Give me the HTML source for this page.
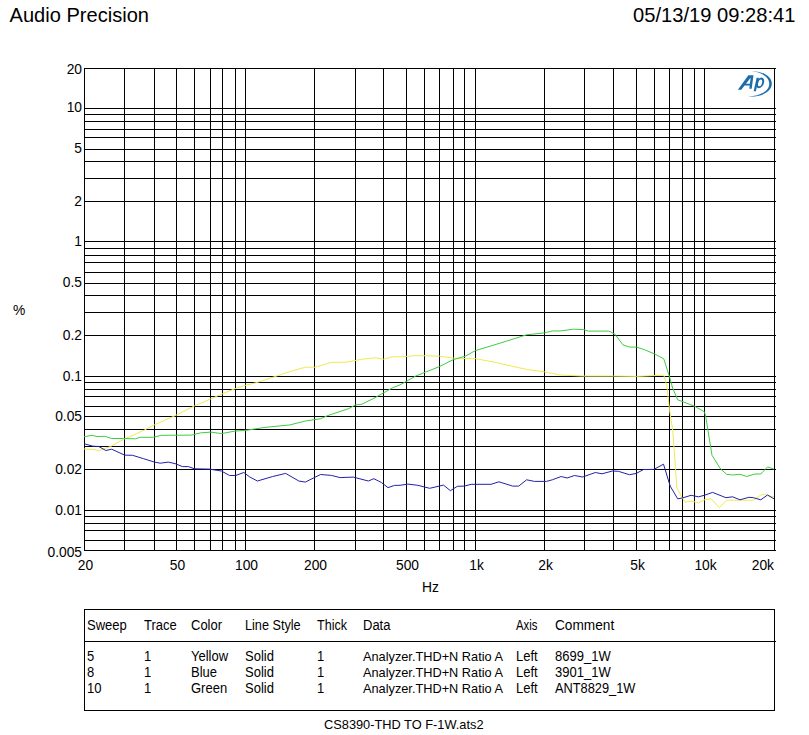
<!DOCTYPE html><html><head><meta charset="utf-8"><style>html,body{margin:0;padding:0;background:#fff;width:809px;height:735px;overflow:hidden}svg{display:block}text{font-family:"Liberation Sans",sans-serif;fill:#000}</style></head><body>
<svg width="809" height="735" viewBox="0 0 809 735">
<rect width="809" height="735" fill="#fff"/>
<path d="M84.5 68V551M124.5 68V551M154.5 68V551M176.5 68V551M194.5 68V551M210.5 68V551M222.5 68V551M235.5 68V551M245.5 68V551M314.5 68V551M355.5 68V551M383.5 68V551M406.5 68V551M424.5 68V551M439.5 68V551M453.5 68V551M464.5 68V551M475.5 68V551M544.5 68V551M584.5 68V551M613.5 68V551M636.5 68V551M654.5 68V551M669.5 68V551M682.5 68V551M694.5 68V551M704.5 68V551M774.5 68V551M84 68.5H776M84 108.5H776M84 114.5H776M84 121.5H776M84 129.5H776M84 137.5H776M84 149.5H776M84 161.5H776M84 178.5H776M84 201.5H776M84 241.5H776M84 248.5H776M84 255.5H776M84 262.5H776M84 272.5H776M84 283.5H776M84 295.5H776M84 312.5H776M84 335.5H776M84 376.5H776M84 382.5H776M84 389.5H776M84 396.5H776M84 406.5H776M84 416.5H776M84 429.5H776M84 446.5H776M84 469.5H776M84 510.5H776M84 516.5H776M84 523.5H776M84 530.5H776M84 540.5H776M84 550.5H776" stroke="#000" stroke-width="1" fill="none" shape-rendering="crispEdges"/>
<polyline points="84.0,449.0 93.9,449.5 98.8,450.9 103.8,448.7 110.7,446.5 123.6,439.3 136.4,433.8 146.3,429.1 155.2,424.5 160.0,422.4 175.0,415.7 194.4,405.9 204.9,401.4 216.9,396.2 234.9,388.7 243.8,385.7 257.4,382.4 274.8,376.6 290.1,371.6 305.3,367.2 315.1,367.2 331.4,362.4 346.7,362.2 361.9,359.2 375.0,357.8 383.7,359.2 392.4,356.8 400.0,356.8 415.8,355.6 439.6,356.2 453.4,358.0 465.3,358.6 475.2,358.6 493.0,361.9 510.8,365.9 526.6,369.4 544.4,371.8 560.0,375.0 583.7,376.1 613.4,376.1 636.4,376.4 663.8,375.2 666.8,385.3 669.5,409.6 672.8,430.8 676.9,488.0 682.4,498.0 685.1,502.2 691.1,501.0 698.5,502.8 705.2,499.5 711.1,498.8 719.3,507.7 726.7,500.2 734.1,500.2 746.0,500.2 753.4,500.2 760.8,495.0 764.5,494.3 767.5,495.5 774.0,497.0" fill="none" stroke="#f0ea50" stroke-width="1" stroke-linejoin="round"/>
<polyline points="84.0,443.7 92.9,446.2 98.8,446.5 105.8,450.5 111.7,449.2 124.6,455.1 132.5,455.3 143.3,458.6 154.2,462.0 160.2,463.2 168.2,462.1 175.0,463.6 182.5,466.6 188.4,466.6 194.4,468.8 209.4,469.1 221.4,471.0 229.6,475.5 235.6,475.5 243.8,472.5 249.8,477.0 257.4,481.0 272.7,476.5 285.7,473.4 298.8,481.0 305.3,482.1 320.5,474.5 331.4,475.4 340.1,477.6 353.2,477.1 368.4,481.0 373.9,478.7 381.5,482.6 388.0,487.6 394.5,485.4 400.0,485.3 407.9,484.1 417.8,485.3 429.7,488.3 443.5,485.1 450.4,490.7 457.4,486.3 464.3,486.1 471.2,484.3 491.0,484.3 498.9,481.8 512.7,486.1 518.7,486.1 526.6,479.8 534.5,481.4 546.4,481.4 552.3,479.8 556.0,478.4 561.2,476.5 567.1,478.0 574.5,475.5 582.7,477.0 595.3,472.5 602.0,473.8 612.4,471.0 618.3,471.3 629.4,474.7 636.1,473.5 643.5,469.5 653.9,469.4 663.5,464.2 670.2,486.1 677.7,498.8 682.2,498.0 691.1,495.3 698.5,496.8 704.4,495.3 712.6,492.4 725.9,497.7 732.6,496.8 740.0,499.8 748.9,497.3 753.4,497.7 760.8,499.8 767.5,495.0 774.0,498.8" fill="none" stroke="#2222aa" stroke-width="1" stroke-linejoin="round"/>
<polyline points="84.0,436.8 91.9,435.3 96.9,436.5 104.8,436.3 111.7,438.5 123.6,438.5 135.4,438.8 140.4,437.3 153.2,437.3 161.2,435.3 191.4,435.1 200.4,432.9 210.9,432.1 221.4,433.6 234.9,431.1 246.8,430.2 264.0,427.5 290.1,424.9 305.3,421.0 320.5,418.8 327.1,415.8 348.8,408.6 355.4,404.9 361.9,404.2 375.0,397.7 392.4,387.9 400.0,384.9 415.8,376.0 439.6,366.5 453.4,359.6 465.3,356.2 475.2,350.7 493.0,345.3 510.8,339.8 526.6,334.8 544.4,332.9 552.3,330.9 560.0,331.0 573.3,329.2 583.7,329.6 588.2,331.1 608.9,331.1 614.9,334.1 623.0,344.9 629.7,347.1 636.4,347.1 644.5,349.7 654.9,354.1 663.8,358.9 669.8,377.8 672.7,388.2 677.7,399.8 694.8,406.3 704.6,412.0 706.2,419.4 712.0,455.3 720.7,469.1 726.7,474.3 732.6,475.0 740.0,474.3 746.7,476.5 754.9,474.0 760.8,474.0 767.5,466.9 774.0,469.1" fill="none" stroke="#40cc40" stroke-width="1" stroke-linejoin="round"/>
<text x="82" y="74" font-size="13.8" text-anchor="end">20</text>
<text x="82" y="112" font-size="13.8" text-anchor="end">10</text>
<text x="82" y="152.5" font-size="13.8" text-anchor="end">5</text>
<text x="82" y="206" font-size="13.8" text-anchor="end">2</text>
<text x="82" y="246" font-size="13.8" text-anchor="end">1</text>
<text x="82" y="287" font-size="13.8" text-anchor="end">0.5</text>
<text x="82" y="340" font-size="13.8" text-anchor="end">0.2</text>
<text x="82" y="381" font-size="13.8" text-anchor="end">0.1</text>
<text x="82" y="421" font-size="13.8" text-anchor="end">0.05</text>
<text x="82" y="474" font-size="13.8" text-anchor="end">0.02</text>
<text x="82" y="515" font-size="13.8" text-anchor="end">0.01</text>
<text x="82" y="557" font-size="13.8" text-anchor="end">0.005</text>
<text x="85.5" y="570" font-size="13.8" text-anchor="middle">20</text>
<text x="177.5" y="570" font-size="13.8" text-anchor="middle">50</text>
<text x="246.5" y="570" font-size="13.8" text-anchor="middle">100</text>
<text x="315.5" y="570" font-size="13.8" text-anchor="middle">200</text>
<text x="407.5" y="570" font-size="13.8" text-anchor="middle">500</text>
<text x="476.5" y="570" font-size="13.8" text-anchor="middle">1k</text>
<text x="545.5" y="570" font-size="13.8" text-anchor="middle">2k</text>
<text x="637.5" y="570" font-size="13.8" text-anchor="middle">5k</text>
<text x="705.5" y="570" font-size="13.8" text-anchor="middle">10k</text>
<text x="774" y="570" font-size="13.8" text-anchor="end">20k</text>
<text x="13" y="314.5" font-size="13.8">%</text>
<text x="422" y="591.5" font-size="13.8">Hz</text>
<text x="9.5" y="21.6" font-size="20.8" textLength="139.5" lengthAdjust="spacingAndGlyphs">Audio Precision</text>
<text x="633" y="21.6" font-size="20.8" textLength="162.5" lengthAdjust="spacingAndGlyphs">05/13/19 09:28:41</text>
<g transform="translate(734 68) scale(0.049444)" fill="#1b6eaa"><path fill-rule="evenodd" d="M78 438 L290 148 L394 148 L358 420 L310 420 L318 354 L214 354 L148 438 Z M336 196 L322 318 L242 318 Z"/><path d="M458 195 L503 195 L443 472 L397 472 Z"/><ellipse cx="0" cy="0" rx="58" ry="88" fill="none" stroke="#1b6eaa" stroke-width="40" transform="translate(528 302) skewX(-14)"/><path d="M360 66 C565 58 768 170 765 320 C761 482 560 592 290 580 C545 560 712 466 713 320 C714 186 560 84 360 66 Z"/></g>
<path d="M84.5 609.5H774.5V710.5H84.5ZM84 641.5H776" stroke="#000" stroke-width="1" fill="none" shape-rendering="crispEdges"/>
<text x="87" y="630" font-size="13.8" textLength="39.75" lengthAdjust="spacingAndGlyphs">Sweep</text>
<text x="144" y="630" font-size="13.8" textLength="32.75" lengthAdjust="spacingAndGlyphs">Trace</text>
<text x="191" y="630" font-size="13.8" textLength="31.08" lengthAdjust="spacingAndGlyphs">Color</text>
<text x="245" y="630" font-size="13.8" textLength="55.67" lengthAdjust="spacingAndGlyphs">Line Style</text>
<text x="317" y="630" font-size="13.8" textLength="29.98" lengthAdjust="spacingAndGlyphs">Thick</text>
<text x="363" y="630" font-size="13.8" textLength="27.47" lengthAdjust="spacingAndGlyphs">Data</text>
<text x="516" y="630" font-size="13.8" textLength="21.37" lengthAdjust="spacingAndGlyphs">Axis</text>
<text x="555" y="630" font-size="13.8" textLength="59.18" lengthAdjust="spacingAndGlyphs">Comment</text>
<text x="87" y="661" font-size="13.8" textLength="7.23" lengthAdjust="spacingAndGlyphs">5</text>
<text x="144" y="661" font-size="13.8" textLength="7.23" lengthAdjust="spacingAndGlyphs">1</text>
<text x="191" y="661" font-size="13.8" textLength="37.11" lengthAdjust="spacingAndGlyphs">Yellow</text>
<text x="245" y="661" font-size="13.8" textLength="28.92" lengthAdjust="spacingAndGlyphs">Solid</text>
<text x="317" y="661" font-size="13.8" textLength="7.23" lengthAdjust="spacingAndGlyphs">1</text>
<text x="363" y="661" font-size="13" textLength="140" lengthAdjust="spacingAndGlyphs">Analyzer.THD+N Ratio A</text>
<text x="516" y="661" font-size="13.8" textLength="21.69" lengthAdjust="spacingAndGlyphs">Left</text>
<text x="555" y="661" font-size="13.8" textLength="55.66" lengthAdjust="spacingAndGlyphs">8699_1W</text>
<text x="87" y="677" font-size="13.8" textLength="7.23" lengthAdjust="spacingAndGlyphs">8</text>
<text x="144" y="677" font-size="13.8" textLength="7.23" lengthAdjust="spacingAndGlyphs">1</text>
<text x="191" y="677" font-size="13.8" textLength="26.03" lengthAdjust="spacingAndGlyphs">Blue</text>
<text x="245" y="677" font-size="13.8" textLength="28.92" lengthAdjust="spacingAndGlyphs">Solid</text>
<text x="317" y="677" font-size="13.8" textLength="7.23" lengthAdjust="spacingAndGlyphs">1</text>
<text x="363" y="677" font-size="13" textLength="140" lengthAdjust="spacingAndGlyphs">Analyzer.THD+N Ratio A</text>
<text x="516" y="677" font-size="13.8" textLength="21.69" lengthAdjust="spacingAndGlyphs">Left</text>
<text x="555" y="677" font-size="13.8" textLength="55.66" lengthAdjust="spacingAndGlyphs">3901_1W</text>
<text x="87" y="693" font-size="13.8" textLength="14.47" lengthAdjust="spacingAndGlyphs">10</text>
<text x="144" y="693" font-size="13.8" textLength="7.23" lengthAdjust="spacingAndGlyphs">1</text>
<text x="191" y="693" font-size="13.8" textLength="36.14" lengthAdjust="spacingAndGlyphs">Green</text>
<text x="245" y="693" font-size="13.8" textLength="28.92" lengthAdjust="spacingAndGlyphs">Solid</text>
<text x="317" y="693" font-size="13.8" textLength="7.23" lengthAdjust="spacingAndGlyphs">1</text>
<text x="363" y="693" font-size="13" textLength="140" lengthAdjust="spacingAndGlyphs">Analyzer.THD+N Ratio A</text>
<text x="516" y="693" font-size="13.8" textLength="21.69" lengthAdjust="spacingAndGlyphs">Left</text>
<text x="555" y="693" font-size="13.8" textLength="80.43" lengthAdjust="spacingAndGlyphs">ANT8829_1W</text>
<text x="324" y="729" font-size="13" textLength="159.5" lengthAdjust="spacingAndGlyphs">CS8390-THD TO F-1W.ats2</text>
</svg></body></html>
